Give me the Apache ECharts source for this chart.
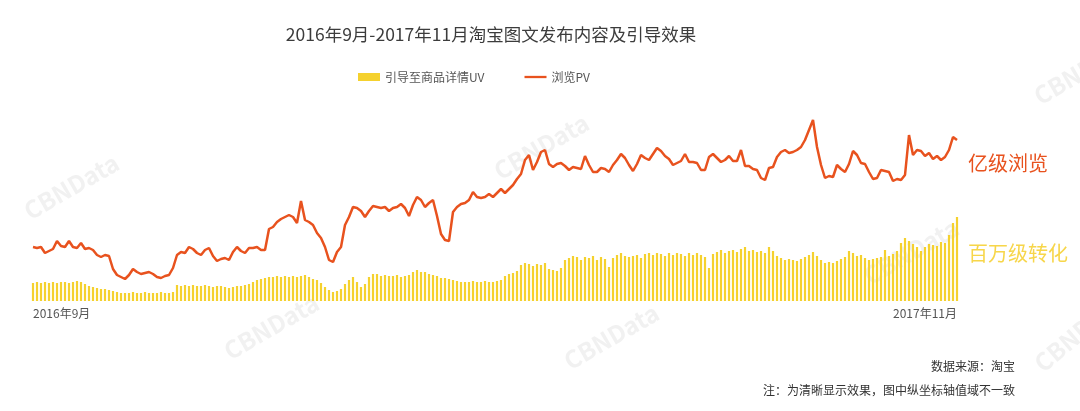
<!DOCTYPE html>
<html>
<head>
<meta charset="utf-8">
<script src="https://cdn.jsdelivr.net/npm/echarts@6/dist/echarts.min.js"></script>
<style>
html,body{margin:0;padding:0;background:#fff;}
#chart{width:1080px;height:411px;}
</style>
</head>
<body>
<div id="chart"></div>
<script>
// Tick labels shown on the x axis (first and last)
var xTickLabels = ['2016年9月', '2017年11月'];

// 浏览PV (line), arbitrary units
var pvValues = [
  54,53,54,48,50,52,60,55,54,60,
  54,53,58,52,53,51,46,44,46,45,
  32,26,24,22,26,32,29,27,28,29,
  27,24,23,25,26,33,46,49,48,54,
  52,48,46,51,53,45,40,42,43,41,
  49,54,50,48,53,53,54,51,51,72,
  74,79,82,84,86,84,78,100,81,79,
  76,68,63,54,41,39,49,54,76,84,
  94,93,90,84,90,95,94,93,94,90,
  93,94,97,93,85,96,104,101,94,98,
  101,85,67,61,60,89,94,97,98,101,
  109,104,103,104,107,104,108,112,108,112,
  116,122,127,141,146,131,139,149,151,137,
  134,137,138,135,131,134,133,132,145,136,
  129,129,133,132,129,136,141,147,143,136,
  130,137,146,143,141,147,153,150,145,142,
  136,138,140,147,139,139,138,131,131,144,
  147,143,139,141,145,140,140,151,135,135,
  132,131,123,121,133,134,144,149,151,148,
  149,151,154,161,171,181,154,136,123,125,
  124,136,132,129,137,150,146,138,137,129,
  122,123,131,130,129,120,122,121,126,166,
  146,151,150,145,148,142,145,141,144,151,
  164,161
];

// 引导至商品详情UV (bars), arbitrary units
var uvValues = [
  18,19,18,19,18,19,18,19,19,18,
  19,20,19,17,15,14,13,12,12,11,
  10,9,8,8,8,9,8,8,9,8,
  8,8,9,8,8,9,16,15,16,15,
  16,15,15,16,15,14,15,15,14,13,
  14,15,15,16,17,19,21,22,23,24,
  24,25,24,25,24,25,24,25,26,24,
  22,21,18,14,11,9,10,12,17,21,
  24,19,14,17,24,27,27,25,26,25,
  25,26,24,25,26,29,31,29,29,27,
  26,25,23,23,22,21,20,19,19,19,
  20,19,19,20,19,19,20,21,25,27,
  28,30,36,38,37,35,37,36,38,32,
  31,30,33,41,43,45,44,41,44,43,
  45,41,44,42,34,43,46,48,45,44,
  45,46,43,47,48,46,48,47,45,48,
  46,48,47,45,48,46,48,46,44,33,
  47,49,51,48,50,51,49,52,54,50,
  51,49,50,48,54,50,45,43,41,42,
  41,40,42,44,46,49,45,41,38,39,
  38,40,42,44,50,48,45,46,43,41,
  42,43,44,51,45,47,50,58,63,60,
  57,54,50,54,57,56,55,59,58,66,
  78,84
];

// Categories: one per sample, with the first and last carrying the tick labels
var categories = [];
for (var i = 0; i < pvValues.length; i++) {
  categories.push(i === 0 ? xTickLabels[0] : (i === pvValues.length - 1 ? xTickLabels[1] : String(i)));
}

var FONT = '"Noto Sans CJK SC", "Noto Sans", sans-serif';
var chart = echarts.init(document.getElementById('chart'), null, {renderer: 'canvas'});

function wm(x, y, rot) {
  return {
    type: 'text', left: x, top: y, rotation: rot * Math.PI / 180, z: -10,
    style: {text: 'CBNData', fill: 'rgba(200,200,200,0.25)', font: 'bold 24px ' + FONT}
  };
}

var option = {
  backgroundColor: '#ffffff',
  animation: false,
  textStyle: {fontFamily: FONT},
  title: {
    text: '2016年9月-2017年11月淘宝图文发布内容及引导效果',
    left: 486, textAlign: 'center', top: 21,
    textStyle: {fontSize: 17.5, fontWeight: 'normal', color: '#3c3c3c', fontFamily: FONT}
  },
  legend: {
    top: 66, left: 353,
    itemWidth: 22, itemHeight: 8, itemGap: 40,
    textStyle: {fontSize: 12, color: '#555', fontFamily: FONT},
    data: [
      {name: '引导至商品详情UV', icon: 'rect'},
      {name: '浏览PV', icon: 'path://M0 0H24V2.5H0Z'}
    ]
  },
  grid: {left: 31, right: 121, top: 110, bottom: 110, containLabel: false},
  xAxis: {
    type: 'category',
    data: categories,
    boundaryGap: true,
    axisLine: {show: false},
    axisTick: {show: false},
    axisLabel: {
      interval: function (idx) { return idx === 0 || idx === categories.length - 1; },
      margin: 6,
      fontSize: 12, color: '#555', fontFamily: FONT,
      alignMinLabel: 'left', alignMaxLabel: 'right'
    }
  },
  yAxis: [
    {type: 'value', min: 0, max: 191, show: false},
    {type: 'value', min: 0, max: 191, show: false}
  ],
  series: [
    {
      name: '引导至商品详情UV', type: 'bar', yAxisIndex: 1,
      data: uvValues, barWidth: '55%',
      itemStyle: {color: '#F5D12E'}
    },
    {
      name: '浏览PV', type: 'line', yAxisIndex: 0,
      data: pvValues, symbol: 'none', smooth: false,
      lineStyle: {color: '#E8521E', width: 2.5},
      itemStyle: {color: '#E8521E'}
    }
  ],
  graphic: [
    wm(20, 150, 30), wm(490, 110, 30), wm(1030, 35, 30), wm(560, 300, 30),
    wm(860, 215, 30), wm(1030, 290, 40), wm(220, 290, 30),
    {type: 'text', left: 968, top: 153, style: {text: '亿级浏览', fill: '#E8521E', font: '20px ' + FONT}},
    {type: 'text', left: 968, top: 243, style: {text: '百万级转化', fill: '#F7D64A', font: '20px ' + FONT}},
    {type: 'text', right: 65, top: 360, style: {text: '数据来源：淘宝', fill: '#333', font: '12px ' + FONT}},
    {type: 'text', right: 65, top: 384, style: {text: '注：为清晰显示效果，图中纵坐标轴值域不一致', fill: '#333', font: '12px ' + FONT}}
  ]
};
chart.setOption(option);
</script>
</body>
</html>
